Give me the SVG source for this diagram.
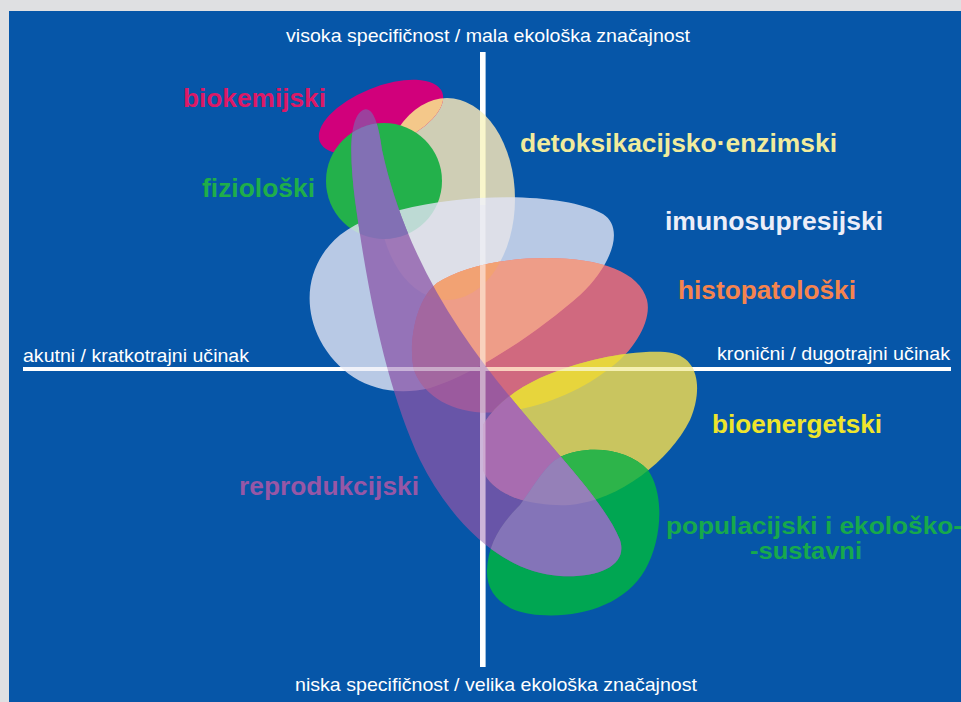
<svg xmlns="http://www.w3.org/2000/svg" xmlns:xlink="http://www.w3.org/1999/xlink" width="961" height="702" viewBox="0 0 961 702">
<style>
.ax{font-family:"Liberation Sans",Arial,sans-serif;font-size:19px;fill:#ffffff}
.lb{font-family:"Liberation Sans",Arial,sans-serif;font-size:25px;font-weight:bold}
.lbs{font-family:"Liberation Sans",Arial,sans-serif;font-size:23px;font-weight:bold}
.axl{fill:#ffffff}
</style>
<defs>
<ellipse id="sDet" cx="447" cy="199" rx="68" ry="101"/>
<ellipse id="sBio" cx="381" cy="117" rx="66" ry="30" transform="rotate(-22 381 117)"/>
<circle id="sFiz" cx="384" cy="181" r="58"/>
<path id="sImm" d="M400,210 C470,192 565,193 603,214 C625,228 612,265 580,295 C540,330 480,372 430,388 C380,400 340,378 320,340 C300,300 310,260 340,235 C360,220 380,214 400,210 Z"/>
<path id="sHis" d="M437,283 C460,268 500,258 547,258 C600,258 640,272 647,300 C652,320 635,350 610,368 C585,388 545,408 500,412 C460,416 425,400 414,370 C408,345 415,300 437,283 Z"/>
<path id="sBen" d="M483,470 L483,425 C495,405 515,390 540,378 C580,360 630,350 665,352 C700,354 703,390 690,420 C670,460 620,500 570,505 C530,507 492,495 483,470 Z"/>
<path id="sPop" d="M560,457 C590,443 630,450 648,470 C665,495 662,540 645,570 C625,605 580,618 540,615 C505,613 486,595 487,570 C488,545 500,525 520,505 C535,485 545,465 560,457 Z"/>
<path id="sRep" d="M363,110 C372,106 378,120 382,150 C395,210 420,270 460,330 C520,420 600,490 620,540 C628,565 600,578 560,576 C500,572 450,520 420,460 C390,395 370,310 355,200 C350,160 348,118 363,110 Z"/>
<clipPath id="cDet"><use xlink:href="#sDet"/></clipPath>
<clipPath id="cImm"><use xlink:href="#sImm"/></clipPath>
<clipPath id="cHis"><use xlink:href="#sHis"/></clipPath>
<clipPath id="cBen"><use xlink:href="#sBen"/></clipPath>
<clipPath id="cPop"><use xlink:href="#sPop"/></clipPath>
<clipPath id="cFiz"><use xlink:href="#sFiz"/></clipPath>
</defs>

<rect x="0" y="0" width="961" height="702" fill="#dfe0e2"/>
<rect x="9" y="11" width="952" height="691" fill="#0656a8"/>

<g id="axes">
<rect class="axl" x="480" y="52" width="5.5" height="615"/>
<rect class="axl" x="23" y="367" width="928" height="4"/>
</g>

<g id="detoksikacijsko">
<use xlink:href="#sDet" fill="#cfceb5"/>
<text class="lb" x="520" y="152" fill="#f1ec9c" textLength="317" lengthAdjust="spacingAndGlyphs">detoksikacijsko·enzimski</text>
</g>

<g id="biokemijski">
<use xlink:href="#sBio" fill="#d1007b"/>
<use xlink:href="#sBio" fill="#f4c88a" clip-path="url(#cDet)"/>
<text class="lb" x="183" y="107" fill="#dc1966" textLength="143" lengthAdjust="spacingAndGlyphs">biokemijski</text>
</g>

<g id="fizioloski">
<use xlink:href="#sFiz" fill="#23b14b"/>
<text class="lb" x="202" y="197" fill="#1fae4a" textLength="113" lengthAdjust="spacingAndGlyphs">fiziološki</text>
</g>

<rect x="480" y="95" width="5.5" height="110" fill="#f4f0a8" clip-path="url(#cDet)"/>

<g id="imunosupresijski">
<use xlink:href="#sImm" fill="#dfe3f3" opacity="0.82"/>
<text class="lb" x="665" y="230" fill="#eceef8" textLength="218" lengthAdjust="spacingAndGlyphs">imunosupresijski</text>
</g>

<g id="histopatoloski">
<use xlink:href="#sHis" fill="#f46c78" opacity="0.85"/>
<use xlink:href="#sHis" fill="#ee9d88" clip-path="url(#cImm)"/>
<use xlink:href="#sHis" fill="#f2a273" clip-path="url(#cDet)"/>
<text class="lb" x="678" y="299" fill="#f5844e" textLength="178" lengthAdjust="spacingAndGlyphs">histopatološki</text>
</g>

<g id="bioenergetski">
<use xlink:href="#sBen" fill="#c9c55f"/>
<use xlink:href="#sBen" fill="#e7d53c" clip-path="url(#cHis)"/>
<text class="lb" x="712" y="433" fill="#eee52c" textLength="170" lengthAdjust="spacingAndGlyphs">bioenergetski</text>
</g>

<g id="populacijski">
<use xlink:href="#sPop" fill="#00a652"/>
<use xlink:href="#sPop" fill="#2db44a" clip-path="url(#cBen)"/>
<text class="lbs" x="666" y="534" fill="#17a94c" textLength="296" lengthAdjust="spacingAndGlyphs">populacijski i ekološko-</text>
<text class="lbs" x="750" y="559" fill="#17a94c" textLength="112" lengthAdjust="spacingAndGlyphs">-sustavni</text>
</g>

<g id="axis-tints">
<rect x="480" y="52" width="5.5" height="615" fill="#f6b08e" clip-path="url(#cHis)"/>
<rect x="23" y="367" width="928" height="4" fill="#f6b08e" clip-path="url(#cHis)"/>
<rect x="23" y="367" width="928" height="4" fill="#eee67a" clip-path="url(#cBen)"/>
</g>

<g id="reprodukcijski">
<use xlink:href="#sRep" fill="#8a56a8" opacity="0.75"/>
<use xlink:href="#sRep" fill="#8270b4" clip-path="url(#cFiz)"/>
<use xlink:href="#sRep" fill="#a86cb0" clip-path="url(#cBen)"/>
<use xlink:href="#sRep" fill="#8474b8" clip-path="url(#cPop)"/>
<g clip-path="url(#cPop)"><use xlink:href="#sRep" fill="#9580b8" clip-path="url(#cBen)"/></g>
<text class="lb" x="239" y="495" fill="#9757a6" textLength="180" lengthAdjust="spacingAndGlyphs">reprodukcijski</text>
</g>

<g id="axes-overlay" opacity="0.42">
<rect class="axl" x="480" y="52" width="5.5" height="615"/>
<rect class="axl" x="23" y="367" width="928" height="4"/>
</g>

<g id="axis-labels">
<text class="ax" x="286" y="42" textLength="404" lengthAdjust="spacingAndGlyphs">visoka specifičnost / mala ekološka značajnost</text>
<text class="ax" x="295" y="691" textLength="402" lengthAdjust="spacingAndGlyphs">niska specifičnost / velika ekološka značajnost</text>
<text class="ax" x="23" y="362" textLength="226" lengthAdjust="spacingAndGlyphs">akutni / kratkotrajni učinak</text>
<text class="ax" x="717" y="360" textLength="233" lengthAdjust="spacingAndGlyphs">kronični / dugotrajni učinak</text>
</g>
</svg>
